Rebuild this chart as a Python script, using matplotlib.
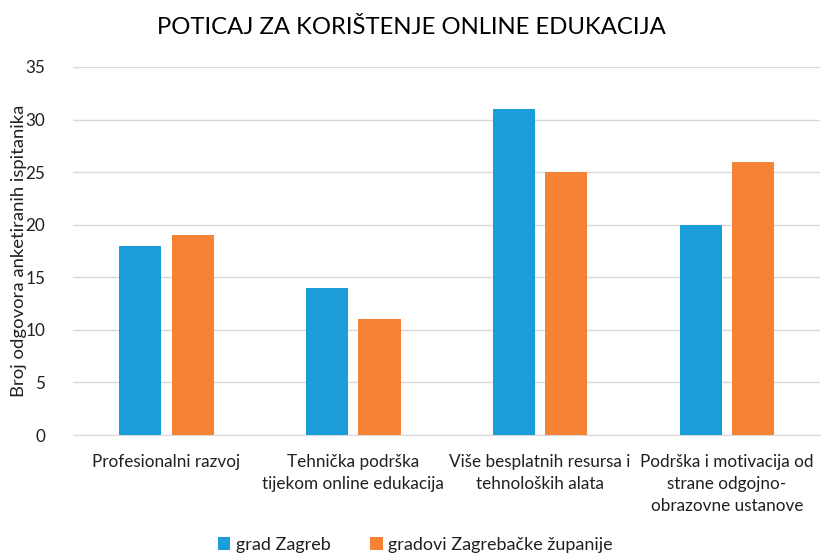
import matplotlib.pyplot as plt
import numpy as np

# podaci
kategorije = ["Profesionalni razvoj",
              "Tehnička podrška\ntijekom online edukacija",
              "Više besplatnih resursa i\ntehnoloških alata",
              "Podrška i motivacija od\nstrane odgojno-\nobrazovne ustanove"]
zagreb = [18, 14, 31, 20]
zupanija = [19, 11, 25, 26]

plt.rcParams['font.family'] = ['Lato', 'DejaVu Sans']

fig = plt.figure(figsize=(8.22, 5.56), dpi=100)
ax = fig.add_axes([0.089, 0.2176, 0.909, 0.662])

x = np.arange(len(kategorije))
w = 0.225
ax.bar(x - 0.14, zagreb, w, color='#1B9DD9', label='grad Zagreb', zorder=3)
ax.bar(x + 0.14, zupanija, w, color='#F58235', label='gradovi Zagrebačke županije', zorder=3)

ax.set_xlim(-0.5, len(kategorije) - 0.5)
ax.set_ylim(0, 35)
ax.set_yticks(range(0, 36, 5))
ax.set_xticks(x)
ax.set_xticklabels(kategorije, fontsize=12.3, color='#202020', linespacing=1.45)
ax.tick_params(axis='y', labelsize=12.3, colors='#202020', length=0, pad=20)
ax.tick_params(axis='x', length=0, pad=14)
ax.grid(axis='y', color='#d9d9d9', linewidth=1, zorder=0)
for s in ['top', 'right', 'left']:
    ax.spines[s].set_visible(False)
ax.spines['bottom'].set_color('#d9d9d9')

ax.set_ylabel('Broj odgovora anketiranih ispitanika', fontsize=13.3, color='#202020', labelpad=-1)
fig.suptitle('POTICAJ ZA KORIŠTENJE ONLINE EDUKACIJA', fontsize=17.2, y=0.97, color='#000000')

fig.legend(loc='lower center', bbox_to_anchor=(0.505, -0.024), ncol=2, frameon=False,
           fontsize=13, handlelength=0.7, handleheight=0.7, handletextpad=0.3,
           columnspacing=2.2, labelcolor='#202020')

fig.savefig('out.png', dpi=100)
